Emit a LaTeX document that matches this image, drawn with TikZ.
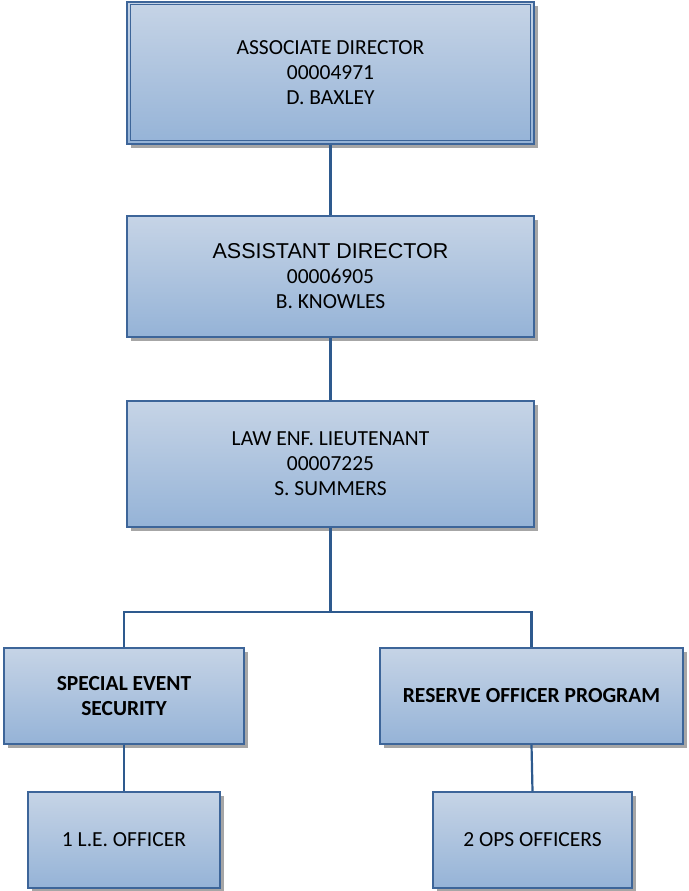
\documentclass[tikz,border=0pt]{standalone}
\usepackage{fontspec}
\setmainfont{Carlito}
\newfontfamily\arialfont{Liberation Sans}
\usetikzlibrary{shadows}

\definecolor{boxtop}{HTML}{C6D4E6}
\definecolor{boxbot}{HTML}{95B3D7}
\definecolor{boxline}{HTML}{3D6599}
\definecolor{linkline}{HTML}{2E5A8E}

\tikzset{
  orgbox/.style={draw=boxline, line width=1.3pt, top color=boxtop, bottom color=boxbot,
    align=center, inner sep=0pt, font=\fontsize{21.5}{25}\selectfont,
    drop shadow={shadow xshift=4pt, shadow yshift=-4pt, fill=black!35, opacity=1}},
  link/.style={draw=linkline, line width=2.2pt}
}

\begin{document}
\begin{tikzpicture}[x=1pt,y=-1pt]
                \useasboundingbox (0,0) rectangle (688,891);

                % the chain of command
                \node[orgbox, minimum width=407pt, minimum height=142pt] (assocdir) at (330.5,73)
                    {ASSOCIATE DIRECTOR\\00004971\\D. BAXLEY};
                \draw[boxline, line width=1.3pt] ([xshift=4pt,yshift=-3pt]assocdir.north west)
                    rectangle ([xshift=-4pt,yshift=4pt]assocdir.south east);
                \node[orgbox, minimum width=407pt, minimum height=121pt] (asstdir) at (330.5,276.5)
                    {{\arialfont\fontsize{21.5}{25}\selectfont ASSISTANT DIRECTOR}\\00006905\\B. KNOWLES};
                \node[orgbox, minimum width=407pt, minimum height=126pt] (lieut) at (330.5,464)
                    {LAW ENF. LIEUTENANT\\00007225\\S. SUMMERS};

                % the two programs
                \node[orgbox, minimum width=240pt, minimum height=96pt, font=\bfseries\fontsize{21.5}{25}\selectfont] (special) at (124,696)
                    {SPECIAL EVENT\\SECURITY};
                \node[orgbox, minimum width=303pt, minimum height=96pt, font=\bfseries\fontsize{21.5}{25}\selectfont] (reserve) at (531.5,696)
                    {RESERVE OFFICER PROGRAM};

                % the staff
                \node[orgbox, minimum width=192pt, minimum height=96pt] (leofficer) at (124,840) {1 L.E. OFFICER};
                \node[orgbox, minimum width=199pt, minimum height=96pt] (opsofficers) at (532.5,840) {2 OPS OFFICERS};

                % the connectors
                \coordinate (split) at (330.5,612);
                \coordinate (splitleft) at (124,612);
                \coordinate (splitright) at (531.5,612);
                \draw[link] (assocdir.south) -- (asstdir.north);
                \draw[link] (asstdir.south) -- (lieut.north);
                \draw[link] (lieut.south) -- (split);
                \draw[link] (special.north) -- (splitleft) -- (splitright) -- (reserve.north);
                \draw[link] (special.south) -- (leofficer.north);
                \draw[link] (reserve.south) -- (opsofficers.north);
            \end{tikzpicture}
\end{document}
